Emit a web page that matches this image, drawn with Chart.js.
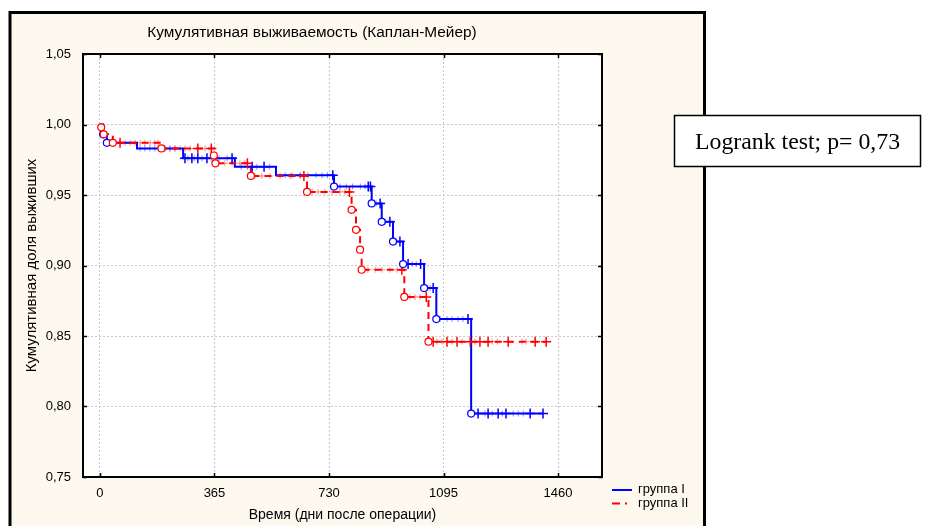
<!DOCTYPE html>
<html lang="ru">
<head>
<meta charset="utf-8">
<title>Кумулятивная выживаемость (Каплан-Мейер)</title>
<script src="https://cdn.jsdelivr.net/npm/chart.js@4.4.1/dist/chart.umd.min.js"></script>
<style>
  html, body { margin: 0; padding: 0; background: #ffffff; }
  canvas { display: block; }
</style>
</head>
<body>
<canvas id="km" width="928" height="526"></canvas>
<script>
// ---- Axes ----
const xTickValues = [0, 365, 730, 1095, 1460];
const yTickValues = [0.75, 0.80, 0.85, 0.90, 0.95, 1.00, 1.05];
const chartTitle = 'Кумулятивная выживаемость (Каплан-Мейер)';
const xTitle = 'Время (дни после операции)';
const yTitle = 'Кумулятивная доля выживших';
const groupNames = ['группа I', 'группа II'];
const testText = 'Logrank test; p= 0,73';

// ---- группа I: Kaplan-Meier steps (day of drop, survival after drop) ----
const g1StepDays = [10, 22, 118, 265, 430, 561, 746, 866, 898, 934, 966, 1033, 1072, 1183];
const g1StepSurv = [0.993, 0.987, 0.983, 0.976, 0.970, 0.964, 0.956, 0.944, 0.931, 0.917, 0.901, 0.884, 0.862, 0.795];
const g1LastDay = 1412;
// complete observations (circles)
const g1EventDays = [10, 22, 746, 866, 898, 934, 966, 1033, 1072, 1183];
const g1EventSurv = [0.993, 0.987, 0.956, 0.944, 0.931, 0.917, 0.901, 0.884, 0.862, 0.795];
// censored observations (crosses)
const g1CensDays = [271, 293, 312, 341, 421, 485, 523, 742, 855, 862, 893, 924, 956, 982, 1022, 1062, 1173, 1205, 1237, 1269, 1294, 1371, 1412];
const g1CensSurv = [0.976, 0.976, 0.976, 0.976, 0.976, 0.970, 0.970, 0.964, 0.956, 0.956, 0.944, 0.931, 0.917, 0.901, 0.901, 0.884, 0.862, 0.795, 0.795, 0.795, 0.795, 0.795, 0.795];
// densely packed censored observations, grouped by survival level
const g1DenseLevels = [0.983, 0.976, 0.970, 0.964, 0.956, 0.944, 0.931, 0.917, 0.901, 0.884, 0.862, 0.795];
const g1DenseDays = [
  [128, 143, 159, 175, 191, 207, 223, 239],
  [280, 300, 325, 355, 380, 405],
  [450, 470, 500, 540],
  [590, 612, 638, 663, 689, 708, 725],
  [765, 785, 805, 830, 845],
  [880],
  [910],
  [945],
  [995, 1008],
  [1045, 1052],
  [1084, 1106, 1122, 1141, 1157],
  [1227, 1250, 1282, 1317, 1333, 1349]
];

// ---- группа II ----
const g2StepDays = [4, 12, 41, 196, 363, 368, 481, 660, 802, 816, 829, 834, 970, 1047];
const g2StepSurv = [0.998, 0.993, 0.987, 0.983, 0.978, 0.9725, 0.9635, 0.9522, 0.9395, 0.9253, 0.9112, 0.897, 0.8777, 0.846];
const g2LastDay = 1422;
const g2EventDays = g2StepDays;
const g2EventSurv = g2StepSurv;
const g2CensDays = [64, 312, 355, 470, 650, 795, 962, 1040, 1062, 1106, 1138, 1180, 1211, 1237, 1301, 1387, 1422];
const g2CensSurv = [0.987, 0.983, 0.983, 0.9725, 0.9635, 0.9522, 0.897, 0.8777, 0.846, 0.846, 0.846, 0.846, 0.846, 0.846, 0.846, 0.846, 0.846];
const g2DenseLevels = [0.987, 0.983, 0.9725, 0.9635, 0.9522, 0.897, 0.8777, 0.846];
const g2DenseDays = [
  [80, 96, 112, 128, 143, 160, 175, 185],
  [207, 223, 239, 255, 271, 287, 335],
  [376, 398, 421, 446, 462],
  [494, 516, 542, 574, 606, 638],
  [676, 695, 717, 740, 765, 781],
  [854, 877, 899, 924, 947],
  [988, 1004, 1020],
  [1074, 1090, 1122, 1154, 1195, 1250, 1266, 1345, 1358]
];

// ---- helpers turning the arrays into Chart.js point lists ----
function curvePoints(days, surv, lastDay) {
  const pts = [{ x: 0, y: 1 }];
  days.forEach((d, i) => pts.push({ x: d, y: surv[i] }));
  pts.push({ x: lastDay, y: surv[surv.length - 1] });
  return pts;
}
function pairPoints(days, surv) {
  return days.map((d, i) => ({ x: d, y: surv[i] }));
}
function densePoints(levels, dayGroups) {
  const pts = [];
  levels.forEach((lv, i) => dayGroups[i].forEach(d => pts.push({ x: d, y: lv })));
  return pts;
}

const BLUE = '#0000ff';
const RED = '#ff0000';
const RED_DASH = [7, 5];
const FONT = '"Liberation Sans", Arial, sans-serif';

// Frame, plot box, title, legend and test box
const decor = {
  id: 'decor',
  beforeDraw(chart) {
    const { ctx, width, height, chartArea: a } = chart;
    ctx.save();
    ctx.fillStyle = '#ffffff';
    ctx.fillRect(0, 0, width, height);
    ctx.fillStyle = '#fdf9ef';
    ctx.fillRect(10, 12, 694, height);
    ctx.strokeStyle = '#000000';
    ctx.lineWidth = 3;
    ctx.beginPath();
    ctx.moveTo(10, height + 5);
    ctx.lineTo(10, 12.5);
    ctx.lineTo(704.5, 12.5);
    ctx.lineTo(704.5, height + 5);
    ctx.stroke();
    ctx.fillStyle = '#ffffff';
    ctx.fillRect(a.left, a.top, a.right - a.left, a.bottom - a.top);
    ctx.restore();
  },
  afterDatasetsDraw(chart) {
    const { ctx, chartArea: a, scales } = chart;
    ctx.save();
    ctx.strokeStyle = '#000000';
    ctx.lineWidth = 2;
    ctx.strokeRect(a.left, a.top, a.right - a.left, a.bottom - a.top);
    ctx.lineWidth = 1.5;
    ctx.beginPath();
    xTickValues.forEach(v => {
      const px = Math.round(scales.x.getPixelForValue(v)) + 0.5;
      ctx.moveTo(px, a.bottom); ctx.lineTo(px, a.bottom - 4);
      ctx.moveTo(px, a.top); ctx.lineTo(px, a.top + 4);
    });
    yTickValues.forEach(v => {
      const py = Math.round(scales.y.getPixelForValue(v)) + 0.5;
      ctx.moveTo(a.left, py); ctx.lineTo(a.left + 4, py);
      ctx.moveTo(a.right, py); ctx.lineTo(a.right - 4, py);
    });
    ctx.stroke();
    ctx.restore();
  },
  afterDraw(chart) {
    const { ctx } = chart;
    ctx.save();
    // title
    ctx.fillStyle = '#000000';
    ctx.font = '15.4px ' + FONT;
    ctx.textAlign = 'center';
    ctx.textBaseline = 'middle';
    ctx.fillText(chartTitle, 312, 33);
    // legend
    ctx.lineWidth = 2;
    ctx.strokeStyle = BLUE;
    ctx.beginPath(); ctx.moveTo(612, 490); ctx.lineTo(632, 490); ctx.stroke();
    ctx.strokeStyle = RED;
    ctx.setLineDash([8, 5, 2, 5]);
    ctx.beginPath(); ctx.moveTo(612, 503.5); ctx.lineTo(632, 503.5); ctx.stroke();
    ctx.setLineDash([]);
    ctx.font = '13px ' + FONT;
    ctx.textAlign = 'left';
    ctx.fillText(groupNames[0], 638, 489);
    ctx.fillText(groupNames[1], 638, 503);
    // test result box
    ctx.fillStyle = '#ffffff';
    ctx.fillRect(674, 115, 247, 52);
    ctx.strokeStyle = '#000000';
    ctx.lineWidth = 1.5;
    ctx.strokeRect(674.5, 115.5, 246, 51);
    ctx.fillStyle = '#000000';
    ctx.font = '23.8px "Liberation Serif", "Times New Roman", serif';
    ctx.textBaseline = 'alphabetic';
    ctx.fillText(testText, 695, 149);
    ctx.restore();
  }
};

Chart.defaults.font.family = FONT;
Chart.defaults.font.size = 13;
Chart.defaults.color = '#000000';

new Chart(document.getElementById('km'), {
  type: 'line',
  data: {
    datasets: [
      {
        label: groupNames[0],
        data: curvePoints(g1StepDays, g1StepSurv, g1LastDay),
        borderColor: BLUE, borderWidth: 2, stepped: 'before',
        pointRadius: 0, fill: false, order: 6
      },
      {
        label: groupNames[1],
        data: curvePoints(g2StepDays, g2StepSurv, g2LastDay),
        borderColor: RED, borderWidth: 2, borderDash: RED_DASH, stepped: 'before',
        pointRadius: 0, fill: false, order: 5
      },
      {
        label: 'g1 dense',
        data: densePoints(g1DenseLevels, g1DenseDays),
        showLine: false, pointStyle: 'cross', pointRadius: 3, pointBorderWidth: 1,
        borderColor: 'rgba(0,0,255,0.45)', order: 8
      },
      {
        label: 'g2 dense',
        data: densePoints(g2DenseLevels, g2DenseDays),
        showLine: false, pointStyle: 'cross', pointRadius: 3, pointBorderWidth: 1,
        borderColor: 'rgba(255,0,0,0.45)', order: 7
      },
      {
        label: 'g1 censored',
        data: pairPoints(g1CensDays, g1CensSurv),
        showLine: false, pointStyle: 'cross', pointRadius: 5, pointBorderWidth: 1.5,
        borderColor: BLUE, order: 4
      },
      {
        label: 'g2 censored',
        data: pairPoints(g2CensDays, g2CensSurv),
        showLine: false, pointStyle: 'cross', pointRadius: 5, pointBorderWidth: 1.5,
        borderColor: RED, order: 3
      },
      {
        label: 'g1 complete',
        data: pairPoints(g1EventDays, g1EventSurv),
        showLine: false, pointStyle: 'circle', pointRadius: 3.5, pointBorderWidth: 1.2,
        borderColor: BLUE, backgroundColor: '#ffffff', order: 2
      },
      {
        label: 'g2 complete',
        data: pairPoints(g2EventDays, g2EventSurv),
        showLine: false, pointStyle: 'circle', pointRadius: 3.5, pointBorderWidth: 1.2,
        borderColor: RED, backgroundColor: '#ffffff', order: 1
      }
    ]
  },
  options: {
    responsive: false,
    animation: false,
    devicePixelRatio: 1,
    events: [],
    layout: { padding: { left: 0, top: 54, right: 326, bottom: 0 } },
    plugins: {
      legend: { display: false },
      tooltip: { enabled: false },
      title: { display: false }
    },
    scales: {
      x: {
        type: 'linear',
        min: -54,
        max: 1600,
        afterBuildTicks: s => { s.ticks = xTickValues.map(v => ({ value: v })); },
        afterFit: s => { s.height = 49; },
        grid: { color: '#c8c8c8', lineWidth: 1, drawTicks: false },
        border: { display: false, dash: [2, 2] },
        ticks: { padding: 9, font: { size: 13 }, callback: v => String(v) },
        title: { display: true, text: xTitle, font: { size: 14 }, padding: { top: 0, bottom: 2 } }
      },
      y: {
        type: 'linear',
        min: 0.75,
        max: 1.05,
        afterBuildTicks: s => { s.ticks = yTickValues.map(v => ({ value: v })); },
        afterFit: s => { s.width = 83; },
        grid: { color: '#c8c8c8', lineWidth: 1, drawTicks: false },
        border: { display: false, dash: [2, 2] },
        ticks: { padding: 12, font: { size: 13 }, callback: v => v.toFixed(2).replace('.', ',') },
        title: { display: true, text: yTitle, font: { size: 15 }, padding: { top: 23, bottom: 0 } }
      }
    }
  },
  plugins: [decor]
});
</script>
</body>
</html>
